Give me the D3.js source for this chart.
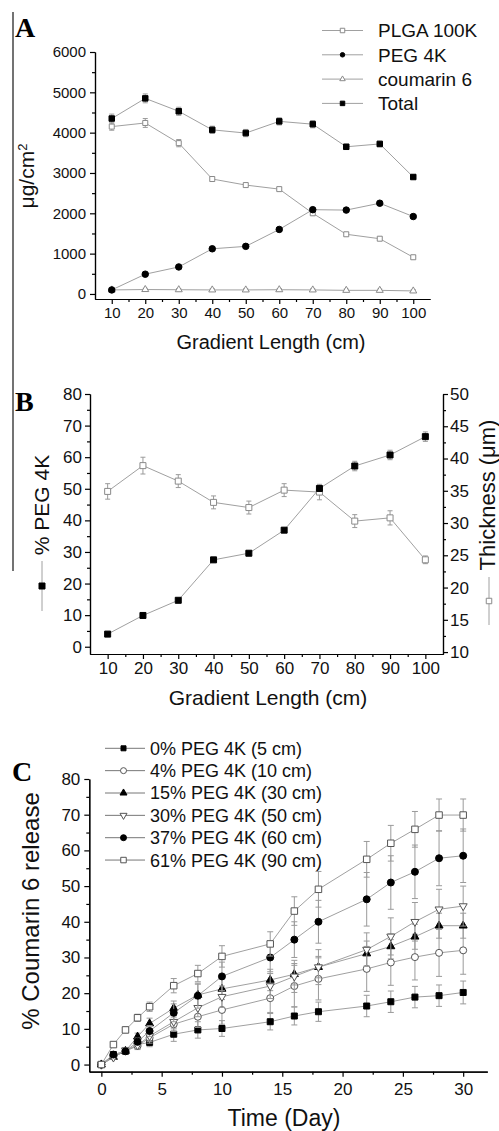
<!DOCTYPE html>
<html>
<head>
<meta charset="utf-8">
<script src="https://cdn.jsdelivr.net/npm/d3@7"></script>
<style>
body { margin: 0; background: #fff; }
svg { display: block; font-family: "Liberation Sans", Arial, sans-serif; }
.axis path, .axis line { stroke: #000; stroke-width: 1.2; }
.axis text { fill: #111; }
</style>
</head>
<body>
<svg id="fig" width="499" height="1131"></svg>
<script>
// ---- panel A data (µg/cm2 vs gradient length) ----
var lengths = [10, 20, 30, 40, 50, 60, 70, 80, 90, 100];
var plga = [4150, 4240, 3740, 2850, 2700, 2600, 2000, 1480, 1370, 910];
var plgaErr = [90, 110, 90, 50, 40, 40, 50, 40, 40, 40];
var peg = [100, 490, 670, 1120, 1180, 1600, 2090, 2080, 2250, 1920];
var pegErr = [40, 40, 40, 40, 40, 40, 40, 40, 40, 40];
var coumarin = [100, 110, 105, 100, 100, 105, 100, 90, 90, 75];
var coumarinErr = [30, 30, 30, 30, 30, 30, 30, 30, 30, 30];
var total = [4350, 4850, 4530, 4070, 3990, 4280, 4210, 3650, 3720, 2900];
var totalErr = [110, 110, 100, 90, 90, 90, 90, 60, 70, 60];
var legendA = ["PLGA 100K", "PEG 4K", "coumarin 6", "Total"];
var ticksAx = [10, 20, 30, 40, 50, 60, 70, 80, 90, 100];
var ticksAy = [0, 1000, 2000, 3000, 4000, 5000, 6000];

// ---- panel B data ----
var pegPct = [4.0, 9.9, 14.7, 27.5, 29.6, 36.9, 50.1, 57.2, 60.7, 66.5];
var pegPctErr = [0.5, 0.5, 0.5, 0.5, 0.5, 0.5, 0.8, 1.5, 1.5, 1.5];
var thickness = [34.9, 38.9, 36.5, 33.2, 32.4, 35.1, 34.8, 30.3, 30.8, 24.3];
var thicknessErr = [1.2, 1.3, 1.0, 1.0, 1.0, 1.0, 1.2, 1.0, 1.1, 0.6];
var ticksBy = [0, 10, 20, 30, 40, 50, 60, 70, 80];
var ticksBr = [10, 15, 20, 25, 30, 35, 40, 45, 50];

// ---- panel C data (% coumarin 6 release vs day) ----
var days = [0, 1, 2, 3, 4, 6, 8, 10, 14, 16, 18, 22, 24, 26, 28, 30];
var rel0 = [0, 2.8, 3.7, 5.6, 6.2, 8.5, 9.7, 10.1, 12.0, 13.6, 14.8, 16.4, 17.6, 18.9, 19.3, 20.2];
var rel0Err = [0, 0.5, 0.8, 1, 1.2, 2, 2.3, 2.2, 2.3, 2.5, 2.7, 3, 3, 3, 3, 3.2];
var rel4 = [0, 2.2, 3.8, 5.2, 7.5, 11.3, 13.4, 15.3, 18.6, 22.0, 24.0, 26.8, 28.6, 30.1, 31.3, 32.0];
var rel4Err = [0, 0.5, 0.8, 1, 1.5, 2, 3, 4, 4, 5.8, 5.9, 6.3, 6.4, 6.4, 6.6, 6.7];
var rel15 = [0, 2.1, 3.8, 7.8, 11.5, 15.8, 19.5, 21.2, 23.7, 25.3, 27.3, 31.1, 33.1, 35.8, 38.9, 38.9];
var rel15Err = [0, 0.5, 0.8, 1, 1.5, 2, 3, 3, 3, 3, 3, 3.5, 3.5, 3.5, 3.5, 3.5];
var rel30 = [0, 2.0, 4.0, 5.4, 8.0, 12.0, 15.9, 19.0, 22.0, 24.7, 27.3, 32.2, 35.9, 40.0, 43.5, 44.4];
var rel30Err = [0, 0.5, 0.8, 1, 1.5, 2, 2.5, 3, 3.5, 4.5, 4.9, 4.7, 5.2, 5.4, 5.6, 5.6];
var rel37 = [0, 2.8, 3.7, 6.4, 9.4, 14.5, 19.3, 24.7, 30.0, 35.0, 40.0, 46.3, 51.0, 54.0, 57.8, 58.5];
var rel37Err = [0, 0.5, 0.8, 1, 1.5, 2.5, 3.5, 4, 4, 5, 6, 7.5, 7.5, 7.5, 7.7, 7.5];
var rel61 = [0, 5.6, 9.7, 13.1, 16.2, 22.1, 25.5, 30.3, 33.8, 43.0, 49.1, 57.5, 62.0, 65.9, 69.9, 69.9];
var rel61Err = [0, 0.5, 0.8, 1, 1.3, 2, 2.3, 3, 3.4, 4, 5, 5, 5, 5, 4.5, 4.5];
var legendC = ["0% PEG 4K (5 cm)", "4% PEG 4K (10 cm)", "15% PEG 4K (30 cm)",
               "30% PEG 4K (50 cm)", "37% PEG 4K (60 cm)", "61% PEG 4K (90 cm)"];
var ticksCx = [0, 5, 10, 15, 20, 25, 30];
var ticksCy = [0, 10, 20, 30, 40, 50, 60, 70, 80];

var svg = d3.select("#fig");
var lineGray = "#a0a0a0", errGray = "#9a9a9a";
var plain = d3.format("d");

// draw one marker at x,y
function marker(g, type, x, y, s, fill, stroke)
{
    var sym = type === "square" ? d3.symbolSquare : type === "circle" ? d3.symbolCircle : d3.symbolTriangle;
    var size = type === "square" ? s * s : type === "circle" ? Math.PI * s * s / 4 : s * s * 0.433;
    g.append("path")
        .attr("d", d3.symbol(sym, size)())
        .attr("transform", "translate(" + x + "," + y + ")" + (type === "down" ? " rotate(180)" : ""))
        .attr("fill", fill)
        .attr("stroke", stroke)
        .attr("stroke-width", 1);
}

function drawSeries(g, xs, ys, errs, xs_, ys_, opt)
{
    var pts = xs.map(function(d, i) { return [xs_(d), ys_(ys[i])]; });
    g.append("path")
        .attr("d", d3.line()(pts))
        .attr("fill", "none")
        .attr("stroke", lineGray)
        .attr("stroke-width", 1);
    pts.forEach(function(p, i) {
        if (!errs[i]) return;
        var top = ys_(ys[i] + errs[i]), bot = ys_(ys[i] - errs[i]);
        g.append("line").attr("x1", p[0]).attr("x2", p[0]).attr("y1", top).attr("y2", bot)
            .attr("stroke", errGray).attr("stroke-width", 1);
        [top, bot].forEach(function(yy) {
            g.append("line").attr("x1", p[0] - opt.cap).attr("x2", p[0] + opt.cap).attr("y1", yy).attr("y2", yy)
                .attr("stroke", errGray).attr("stroke-width", 1);
        });
    });
    pts.forEach(function(p) { marker(g, opt.type, p[0], p[1], opt.size, opt.fill, opt.stroke); });
}

function axisG(axis, tr, fs)
{
    var g = svg.append("g").attr("class", "axis").attr("transform", tr).call(axis);
    g.selectAll("text").style("font-size", fs + "px");
    return g;
}

function panelLabel(t, x, y)
{
    svg.append("text").attr("x", x).attr("y", y).text(t)
        .style("font-family", "'Liberation Serif', 'Times New Roman', serif")
        .style("font-weight", "bold").style("font-size", "28px");
}

function rotLabel(x, y, fs)
{
    return svg.append("text")
        .attr("transform", "translate(" + x + "," + y + ") rotate(-90)")
        .attr("text-anchor", "middle")
        .style("font-size", fs + "px")
        .attr("fill", "#111");
}

// left frame line
svg.append("line").attr("x1", 13).attr("x2", 13).attr("y1", 12).attr("y2", 571)
    .attr("stroke", "#444").attr("stroke-width", 1.5);

// ================= panel A =================
var xA = d3.scaleLinear().domain([5, 105]).range([95, 430]);
var yA = d3.scaleLinear().domain([-125, 6000]).range([299, 52]);
axisG(d3.axisBottom(xA).tickValues(d3.range(15, 100, 10)).tickFormat("").tickSize(3).tickSizeOuter(0), "translate(0,299)", 15);
axisG(d3.axisBottom(xA).tickValues(ticksAx).tickFormat(plain).tickSize(5).tickPadding(3).tickSizeOuter(0), "translate(0,299)", 15);
axisG(d3.axisLeft(yA).tickValues(d3.range(500, 6000, 1000)).tickFormat("").tickSize(3).tickSizeOuter(0), "translate(95,0)", 15);
axisG(d3.axisLeft(yA).tickValues(ticksAy).tickFormat(plain).tickSize(5).tickPadding(4).tickSizeOuter(0), "translate(95,0)", 15);

var gA = svg.append("g");
var openA = "#8a8a8a";
var seriesA = [
    {ys: coumarin, err: coumarinErr, type: "triangle", size: 7, fill: "#fff", stroke: openA},
    {ys: plga, err: plgaErr, type: "square", size: 5, fill: "#fff", stroke: openA},
    {ys: peg, err: pegErr, type: "circle", size: 6.5, fill: "#000", stroke: "#000"},
    {ys: total, err: totalErr, type: "square", size: 5.5, fill: "#000", stroke: "#000"}
];
seriesA.forEach(function(s) {
    drawSeries(gA, lengths, s.ys, s.err, xA, yA, {type: s.type, size: s.size, fill: s.fill, stroke: s.stroke, cap: 2.5});
});

// legend A
var legA = [seriesA[1], seriesA[2], seriesA[0], seriesA[3]];
legA.forEach(function(s, i) {
    var yy = 30.5 + i * 24.3;
    svg.append("line").attr("x1", 322).attr("x2", 363).attr("y1", yy).attr("y2", yy)
        .attr("stroke", lineGray).attr("stroke-width", 1);
    marker(svg, s.type, 342.5, yy, s.type === "triangle" ? 5.5 : 4.5, s.fill, s.stroke);
    svg.append("text").attr("x", 378).attr("y", yy).attr("dy", "0.36em")
        .style("font-size", "19px").attr("fill", "#111").text(legendA[i]);
});

svg.append("text").attr("x", 271).attr("y", 349).attr("text-anchor", "middle")
    .style("font-size", "20px").attr("fill", "#111").text("Gradient Length (cm)");
var tA = rotLabel(34, 176, 21);
tA.append("tspan").text("\u03bcg/cm");
tA.append("tspan").attr("baseline-shift", "super").style("font-size", "13px").text("2");
panelLabel("A", 15, 37);

// ================= panel B =================
var xB = d3.scaleLinear().domain([5, 105]).range([90, 443]);
var yB = d3.scaleLinear().domain([-2.3, 80]).range([654, 394]);
var yBr = d3.scaleLinear().domain([9.7, 50]).range([654, 394]);
axisG(d3.axisBottom(xB).tickValues(d3.range(15, 100, 10)).tickFormat("").tickSize(3).tickSizeOuter(0), "translate(0,654)", 17);
axisG(d3.axisBottom(xB).tickValues(ticksAx).tickFormat(plain).tickSize(5).tickPadding(3).tickSizeOuter(0), "translate(0,654)", 17);
axisG(d3.axisLeft(yB).tickValues(d3.range(5, 80, 10)).tickFormat("").tickSize(3).tickSizeOuter(0), "translate(90,0)", 17);
axisG(d3.axisLeft(yB).tickValues(ticksBy).tickFormat(plain).tickSize(5).tickPadding(3).tickSizeOuter(0), "translate(90,0)", 17);
axisG(d3.axisRight(yBr).tickValues(d3.range(12.5, 50, 5)).tickFormat("").tickSize(3).tickSizeOuter(0), "translate(443,0)", 17);
axisG(d3.axisRight(yBr).tickValues(ticksBr).tickFormat(plain).tickSize(5).tickPadding(2).tickSizeOuter(0), "translate(443,0)", 17);

var gB = svg.append("g");
drawSeries(gB, lengths, thickness, thicknessErr, xB, yBr, {type: "square", size: 6, fill: "#fff", stroke: openA, cap: 2.5});
drawSeries(gB, lengths, pegPct, pegPctErr, xB, yB, {type: "square", size: 6, fill: "#000", stroke: "#000", cap: 2.5});

svg.append("text").attr("x", 268).attr("y", 705).attr("text-anchor", "middle")
    .style("font-size", "21px").attr("fill", "#111").text("Gradient Length (cm)");
rotLabel(49, 505, 21).text("% PEG 4K");
rotLabel(495, 495, 22).text("Thickness (\u03bcm)");
// axis-title symbols
svg.append("line").attr("x1", 42).attr("x2", 42).attr("y1", 561).attr("y2", 611).attr("stroke", lineGray);
marker(svg, "square", 42, 586, 6, "#000", "#000");
svg.append("line").attr("x1", 489).attr("x2", 489).attr("y1", 577).attr("y2", 625).attr("stroke", lineGray);
marker(svg, "square", 489, 601, 5.5, "#fff", openA);
panelLabel("B", 15, 411);

// ================= panel C =================
var xC = d3.scaleLinear().domain([-1, 32]).range([89.3, 487.3]);
var yC = d3.scaleLinear().domain([-2, 80]).range([1071.7, 779]);
axisG(d3.axisBottom(xC).tickValues(d3.range(2.5, 30, 5)).tickFormat("").tickSize(3).tickSizeOuter(0), "translate(0,1071.7)", 17);
axisG(d3.axisBottom(xC).tickValues(ticksCx).tickFormat(plain).tickSize(5).tickPadding(6).tickSizeOuter(0), "translate(0,1071.7)", 17);
axisG(d3.axisLeft(yC).tickValues(d3.range(5, 80, 10)).tickFormat("").tickSize(3).tickSizeOuter(0), "translate(89.3,0)", 17);
axisG(d3.axisLeft(yC).tickValues(ticksCy).tickFormat(plain).tickSize(5).tickPadding(4).tickSizeOuter(0), "translate(89.3,0)", 17);

var gC = svg.append("g");
var openC = "#555";
var seriesC = [
    {ys: rel0, err: rel0Err, type: "square", size: 6, fill: "#000", stroke: "#000"},
    {ys: rel4, err: rel4Err, type: "circle", size: 7, fill: "#fff", stroke: openC},
    {ys: rel15, err: rel15Err, type: "triangle", size: 8, fill: "#000", stroke: "#000"},
    {ys: rel30, err: rel30Err, type: "down", size: 8, fill: "#fff", stroke: openC},
    {ys: rel37, err: rel37Err, type: "circle", size: 7, fill: "#000", stroke: "#000"},
    {ys: rel61, err: rel61Err, type: "square", size: 6.5, fill: "#fff", stroke: openC}
];
seriesC.forEach(function(s) {
    drawSeries(gC, days, s.ys, s.err, xC, yC, {type: s.type, size: s.size, fill: s.fill, stroke: s.stroke, cap: 3});
});

seriesC.forEach(function(s, i) {
    var yy = 748.3 + i * 22.35;
    svg.append("line").attr("x1", 105).attr("x2", 145).attr("y1", yy).attr("y2", yy)
        .attr("stroke", "#777").attr("stroke-width", 1);
    marker(svg, s.type, 123.5, yy, s.size - 1, s.fill, s.stroke);
    svg.append("text").attr("x", 150).attr("y", yy).attr("dy", "0.36em")
        .style("font-size", "18px").attr("fill", "#111").text(legendC[i]);
});

svg.append("text").attr("x", 284).attr("y", 1126).attr("text-anchor", "middle")
    .style("font-size", "23px").attr("fill", "#111").text("Time (Day)");
rotLabel(39, 911, 24).text("% Coumarin 6 release");
panelLabel("C", 12, 781);
</script>
</body>
</html>
